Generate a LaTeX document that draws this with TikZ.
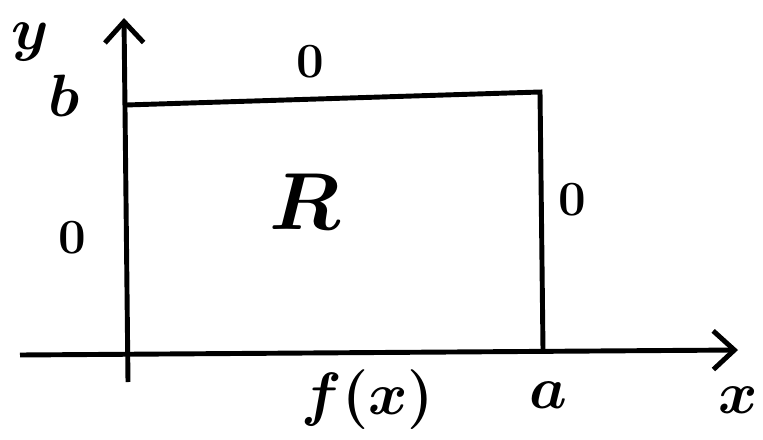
\documentclass[tikz,border=0pt]{standalone}
\usepackage{fix-cm}
\usetikzlibrary{arrows.meta}
\begin{document}
\begin{tikzpicture}[x=0.02cm,y=-0.02cm,
  lbl/.style={font=\fontsize{34}{38}\selectfont\boldmath},
  zero/.style={font=\fontsize{28}{32}\selectfont\boldmath}]

\useasboundingbox (0,0) rectangle (763,439);

% Ejes
\coordinate (xs) at (20,355);
\coordinate (xe) at (738,350);
\coordinate (ys) at (128,382);
\coordinate (ye) at (124,18);
\draw[line width=2.8pt,-{Straight Barb[length=12pt,width=22pt]}] (xs) -- (xe);
\draw[line width=2.8pt,-{Straight Barb[length=12pt,width=22pt]}] (ys) -- (ye);

% Rectángulo R
\coordinate (tl) at (126,105);
\coordinate (tr) at (540,92);
\coordinate (br) at (543,350);
\draw[line width=2.8pt] (tl) -- (tr) -- (br);

% Etiquetas
\node[lbl] (ylab) at (30,42) {$y$};
\node[lbl] (blab) at (64,96) {$b$};
\node[zero] (ztop) at (310,62) {$0$};
\node[zero] (zleft) at (72,238) {$0$};
\node[font=\fontsize{46}{50}\selectfont\boldmath] (rlab) at (305,202) {$R$};
\node[zero] (zright) at (572,200) {$0$};
\node[lbl] (alab) at (548,395) {$a$};
\node[lbl] (flab) at (368,400) {$f(x)$};
\node[lbl] (xlab) at (738,400) {$x$};

\end{tikzpicture}
\end{document}
